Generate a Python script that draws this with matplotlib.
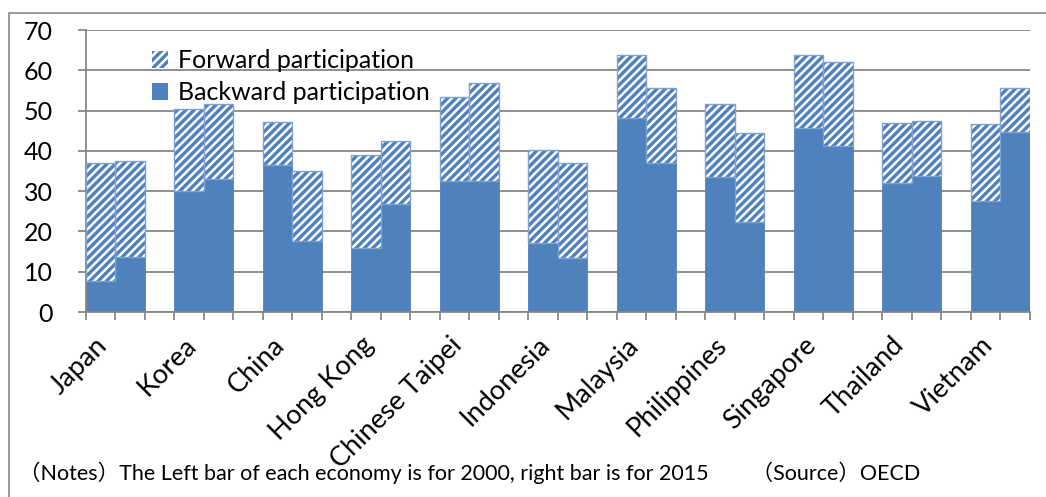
import numpy as np
import matplotlib
matplotlib.use("Agg")
import matplotlib.pyplot as plt
from matplotlib.patches import Patch, Rectangle

# Backward / forward GVC participation (%), left bar = 2000, right bar = 2015
economies = ["Japan", "Korea", "China", "Hong Kong", "Chinese Taipei", "Indonesia",
             "Malaysia", "Philippines", "Singapore", "Thailand", "Vietnam"]
backward_2000 = [7.6, 30.0, 36.4, 15.9, 32.5, 17.2, 48.1, 33.4, 45.6, 32.1, 27.5]
total_2000 = [37.1, 50.4, 47.1, 38.9, 53.4, 40.1, 63.8, 51.6, 63.8, 46.9, 46.7]
backward_2015 = [13.7, 32.9, 17.7, 26.9, 32.6, 13.3, 37.1, 22.4, 41.3, 33.8, 44.8]
total_2015 = [37.6, 51.7, 35.0, 42.4, 56.9, 37.1, 55.7, 44.5, 62.1, 47.4, 55.7]
yticks = [0, 10, 20, 30, 40, 50, 60, 70]
note = "（Notes）The Left bar of each economy is for 2000, right bar is for 2015　　（Source）OECD"

BLUE = "#4f81bd"
EDGE = "#7fa3d1"
GRAY = "#878787"

plt.rcParams["font.family"] = ["Lato", "DejaVu Sans"]
plt.rcParams["hatch.color"] = "white"
plt.rcParams["hatch.linewidth"] = 1.8

fig = plt.figure(figsize=(10.46, 4.97), dpi=100)
ax = fig.add_axes([0.0822, 0.3722, 0.9025, 0.5674])

n = len(economies)
x_left = np.arange(n) * 3
x_right = x_left + 1

forward_2000 = np.array(total_2000) - np.array(backward_2000)
forward_2015 = np.array(total_2015) - np.array(backward_2015)

for xs, back, fwd in [(x_left, backward_2000, forward_2000), (x_right, backward_2015, forward_2015)]:
    ax.bar(xs, back, width=1.0, color=BLUE, edgecolor=BLUE, linewidth=0.6, zorder=2)
    ax.bar(xs, fwd, bottom=back, width=1.0, color=BLUE, hatch="////", linewidth=0, zorder=2)
    ax.bar(xs, fwd, bottom=back, width=1.0, fill=False, edgecolor=EDGE, linewidth=1.0, zorder=3)

ax.set_xlim(-0.5, 3 * n - 1.5)
ax.set_ylim(0, 70)
ax.set_yticks(yticks)
ax.yaxis.grid(True, color=GRAY, linewidth=1.3, zorder=0)
ax.set_axisbelow(True)

# major ticks at every slot boundary, economy names on minor ticks near each pair
ax.xaxis.remove_overlapping_locs = False
ax.set_xticks(np.arange(-0.5, 3 * n - 1, 1.0))
ax.set_xticklabels([])
ax.set_xticks(x_left + 0.1, minor=True)
ax.set_xticklabels(economies, minor=True, rotation=45, ha="right", va="center",
                   rotation_mode="anchor", fontsize=19.5)
ax.tick_params(axis="x", which="major", length=6, width=1.3, color=GRAY, direction="out")
ax.tick_params(axis="x", which="minor", length=0, pad=21)
ax.tick_params(axis="y", length=6, width=1.3, color=GRAY, labelsize=18, pad=18)

for side in ["top", "right"]:
    ax.spines[side].set_visible(False)
for side in ["left", "bottom"]:
    ax.spines[side].set_color(GRAY)
    ax.spines[side].set_linewidth(1.3)

handles = [Patch(facecolor=BLUE, hatch="////", edgecolor=None, linewidth=0, label="Forward participation"),
           Patch(facecolor=BLUE, label="Backward participation")]
ax.legend(handles=handles, loc="upper left", bbox_to_anchor=(0.059, 0.967), frameon=False,
          fontsize=18, handlelength=0.65, handleheight=0.65, handletextpad=0.4, labelspacing=0.35,
          borderaxespad=0)

fig.text(0.018, 0.034, note, fontsize=15.5, family=["Lato", "Noto Sans CJK JP"], va="baseline")

fig.patches.append(Rectangle((0.0086, -0.1), 1.2, 0.9738 + 0.1, transform=fig.transFigure,
                             fill=False, edgecolor=GRAY, linewidth=1.2))

fig.savefig("out.png", dpi=100)
